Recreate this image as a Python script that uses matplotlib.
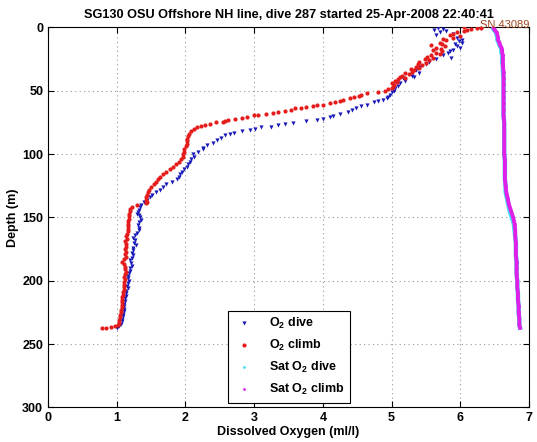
import numpy as np
import matplotlib
matplotlib.use("Agg")
import matplotlib.pyplot as plt

plt.rcParams['font.family'] = ['Liberation Sans', 'DejaVu Sans']
plt.rcParams['font.weight'] = 'bold'
plt.rcParams['mathtext.fontset'] = 'custom'
plt.rcParams['mathtext.rm'] = 'Liberation Sans:bold'
plt.rcParams['mathtext.default'] = 'rm'

# O2 dive (depth m, ml/l)
dive_depth = [0.5, 1, 2, 3, 4, 5, 6, 8, 10, 11, 12, 13, 15, 16, 18, 19, 20, 22, 24, 25,
              27, 29, 31, 32, 34, 36, 38, 39, 40, 42, 44, 46, 48, 50, 51, 53, 55, 56, 57, 58,
              59, 61, 62, 64, 65, 67, 68, 70, 71, 72, 73, 74, 75.5, 76, 77, 78.5, 79, 80, 81, 82,
              83, 84, 85, 87, 89, 91, 93, 95, 96, 98, 100, 102, 104, 106, 108, 110, 112, 114, 116, 118,
              120, 122, 124, 126, 128, 130, 132, 134, 136, 138, 140, 142, 144, 146, 147, 148, 150, 152, 154, 156,
              158, 160, 162, 164, 166, 168, 170, 172, 174, 176, 178, 180, 182, 184, 186, 188, 190, 192, 194, 196,
              198, 200, 202, 204, 206, 208, 210, 212, 214, 216, 218, 220, 222, 224, 226, 228, 230, 232, 234, 236, 237]
dive_o2 = [5.67, 5.75, 5.62, 5.80, 5.70, 5.90, 5.65, 5.95, 6.02, 5.98, 6.03, 5.92, 5.95, 6.00, 5.90, 5.85, 5.82, 5.75, 5.86, 5.65,
           5.55, 5.50, 5.42, 5.38, 5.35, 5.40, 5.30, 5.32, 5.17, 5.20, 5.12, 5.10, 5.05, 5.03, 5.00, 4.98, 4.95, 4.94, 4.88, 4.80,
           4.75, 4.65, 4.55, 4.48, 4.42, 4.36, 4.25, 4.15, 4.11, 4.00, 3.92, 3.75, 3.57, 3.45, 3.35, 3.24, 3.10, 3.02, 2.94, 2.82,
           2.70, 2.65, 2.58, 2.52, 2.46, 2.40, 2.32, 2.26, 2.25, 2.18, 2.11, 2.12, 2.08, 2.06, 2.04, 2.03, 1.98, 1.95, 1.92, 1.90,
           1.88, 1.80, 1.72, 1.68, 1.63, 1.57, 1.52, 1.48, 1.44, 1.40, 1.36, 1.34, 1.32, 1.31, 1.30, 1.33, 1.34, 1.35, 1.32, 1.31,
           1.33, 1.32, 1.30, 1.26, 1.24, 1.26, 1.25, 1.28, 1.24, 1.23, 1.22, 1.23, 1.22, 1.20, 1.21, 1.22, 1.20, 1.19, 1.18, 1.17,
           1.17, 1.18, 1.16, 1.15, 1.16, 1.14, 1.14, 1.13, 1.12, 1.12, 1.11, 1.11, 1.10, 1.10, 1.09, 1.09, 1.08, 1.07, 1.06, 1.04, 1.00]

# O2 climb
climb_depth = [237.5, 237, 236.5, 236, 235, 233, 231, 229, 227, 225, 223, 221, 219, 217, 215, 213, 211, 209, 207, 205,
               203, 201, 199, 197, 195, 193, 191, 189, 187, 185, 183, 181, 179, 177, 175, 173, 171, 169, 167, 165,
               163, 161, 159, 157, 155, 153, 151, 149, 147, 145, 143, 141.5, 140, 139, 138, 136, 134, 132, 130, 128,
               126, 124, 122, 120, 118, 116, 114, 112, 110, 108, 106, 104, 102, 100, 98, 96, 94, 92, 90, 88,
               86, 84, 82, 80, 79, 78, 77, 76, 75, 74.5, 74, 73, 72, 71.5, 70.5, 69.5, 69, 68, 67.5, 67,
               66, 65, 64, 63.5, 63, 62, 61.3, 61, 60, 59, 58, 57, 56, 55, 54, 53.4, 52, 51, 50, 49,
               48, 47, 45.5, 44, 43, 42, 41, 40, 39, 38, 37, 36, 35, 34, 33, 32, 31, 30, 29, 28,
               27, 26, 25, 24, 23, 22, 21, 20, 19, 18, 17, 16, 15, 14, 13, 12, 10, 9, 8, 7,
               6, 5, 4, 3, 2, 1, 0.5, 0.3, 0]
climb_o2 = [0.79, 0.85, 0.92, 0.98, 1.02, 1.03, 1.04, 1.05, 1.05, 1.06, 1.06, 1.07, 1.07, 1.08, 1.08, 1.08, 1.09, 1.09, 1.10, 1.10,
            1.10, 1.11, 1.12, 1.11, 1.12, 1.13, 1.12, 1.12, 1.10, 1.08, 1.10, 1.13, 1.12, 1.13, 1.12, 1.13, 1.14, 1.12, 1.15, 1.14,
            1.15, 1.16, 1.16, 1.17, 1.17, 1.17, 1.18, 1.18, 1.18, 1.19, 1.20, 1.22, 1.30, 1.42, 1.44, 1.42, 1.43, 1.44, 1.45, 1.47,
            1.50, 1.54, 1.57, 1.60, 1.63, 1.67, 1.72, 1.77, 1.82, 1.87, 1.90, 1.93, 1.96, 1.97, 1.98, 1.98, 2.01, 2.02, 2.02, 2.03,
            2.04, 2.05, 2.08, 2.12, 2.17, 2.22, 2.28, 2.36, 2.45, 2.54, 2.58, 2.62, 2.72, 2.82, 2.90, 3.00, 3.05, 3.18, 3.28, 3.35,
            3.45, 3.53, 3.60, 3.68, 3.75, 3.86, 3.92, 4.00, 4.10, 4.18, 4.25, 4.30, 4.40, 4.45, 4.52, 4.55, 4.65, 4.80, 4.90, 4.95,
            5.00, 5.02, 5.03, 5.00, 5.08, 5.05, 5.10, 5.20, 5.12, 5.15, 5.25, 5.20, 5.30, 5.32, 5.28, 5.40, 5.35, 5.45, 5.38, 5.50,
            5.40, 5.55, 5.48, 5.60, 5.52, 5.58, 5.70, 5.65, 5.74, 5.60, 5.72, 5.65, 5.78, 5.57, 5.74, 5.70, 5.80, 5.75, 5.90, 6.00,
            5.85, 5.90, 5.95, 6.05, 6.10, 6.15, 6.25, 6.30, 6.05]

# saturation O2 profiles
sat_depth = [0, 2, 4, 6, 8, 10, 12, 14, 16, 18, 20, 22, 25, 28, 30, 35, 40, 45, 50, 55,
             60, 65, 70, 75, 80, 85, 90, 95, 100, 105, 110, 115, 120, 125, 130, 135, 140, 145, 150, 155,
             160, 165, 170, 175, 180, 185, 190, 195, 200, 205, 210, 215, 220, 225, 230, 235, 237]
sat_climb = [6.48, 6.50, 6.53, 6.54, 6.55, 6.55, 6.57, 6.58, 6.60, 6.61, 6.61, 6.62, 6.62, 6.62, 6.62, 6.63, 6.63, 6.63, 6.63, 6.63,
             6.63, 6.63, 6.63, 6.64, 6.64, 6.64, 6.64, 6.64, 6.64, 6.65, 6.65, 6.65, 6.65, 6.66, 6.67, 6.69, 6.71, 6.74, 6.77, 6.79,
             6.80, 6.80, 6.81, 6.81, 6.81, 6.82, 6.82, 6.82, 6.83, 6.83, 6.84, 6.84, 6.85, 6.85, 6.86, 6.86, 6.87]
sat_dive = [6.47, 6.49, 6.52, 6.53, 6.54, 6.54, 6.56, 6.57, 6.59, 6.60, 6.60, 6.61, 6.61, 6.61, 6.62, 6.62, 6.63, 6.63, 6.63, 6.63,
            6.63, 6.63, 6.63, 6.64, 6.64, 6.64, 6.64, 6.64, 6.64, 6.65, 6.65, 6.65, 6.65, 6.66, 6.66, 6.68, 6.70, 6.72, 6.75, 6.78,
            6.79, 6.80, 6.81, 6.81, 6.81, 6.82, 6.82, 6.82, 6.83, 6.83, 6.84, 6.84, 6.85, 6.85, 6.86, 6.86, 6.87]

title = "SG130 OSU Offshore NH line, dive 287 started 25-Apr-2008 22:40:41"

c_dive = '#1818b8'
c_climb = '#e41c1c'
c_sdive = '#40e0f0'
c_sclimb = '#e020e8'

fig = plt.figure(figsize=(5.37, 4.42), dpi=100)
ax = fig.add_axes([0.0894, 0.0783, 0.8956, 0.8597])

# thick sat lines (dense in the original), markers carry the legend
ax.plot(sat_dive, sat_depth, '-', color=c_sdive, lw=3.2, zorder=2)
ax.plot(sat_climb, sat_depth, '-', color=c_sclimb, lw=2.8, zorder=3)

ax.plot(dive_o2, dive_depth, 'v', color=c_dive, ms=3, mew=0, ls='none', label='O$_2$ dive', zorder=4)
ax.plot(climb_o2, climb_depth, 'o', color=c_climb, ms=3, mew=0, ls='none', label='O$_2$ climb', zorder=5)
ax.plot(sat_dive, sat_depth, 'o', color=c_sdive, ms=2, mew=0, ls='none', label='Sat O$_2$ dive', zorder=2)
ax.plot(sat_climb, sat_depth, 'o', color=c_sclimb, ms=2, mew=0, ls='none', label='Sat O$_2$ climb', zorder=3)

ax.set_xlim(0, 7)
ax.set_ylim(300, 0)
ax.set_xticks(range(0, 8))
ax.set_yticks(range(0, 301, 50))
ax.grid(True, color='#999999', linestyle=(0, (1, 3)), linewidth=0.8)
ax.tick_params(direction='in', top=True, right=True, labelsize=9, length=4, width=0.8)
for s in ax.spines.values():
    s.set_linewidth(0.8)

ax.set_title(title, fontsize=9.2, fontweight='bold', pad=7)
ax.set_xlabel('Dissolved Oxygen (ml/l)', fontsize=9, fontweight='bold', labelpad=1)
ax.set_ylabel('Depth (m)', fontsize=9, fontweight='bold', labelpad=2)
ax.text(1.0, 0.993, 'SN 43089', transform=ax.transAxes, ha='right', va='bottom',
        color='#a0461e', fontsize=8, fontweight='normal')

leg = ax.legend(loc='lower left', bbox_to_anchor=(0.374, 0.012), borderaxespad=0,
                fancybox=False, edgecolor='black', framealpha=1, fontsize=9,
                markerscale=1.0, handlelength=1.6, handletextpad=1.2,
                labelspacing=0.55, borderpad=0.45)
leg.get_frame().set_linewidth(0.8)

fig.savefig('out.png', dpi=100)
